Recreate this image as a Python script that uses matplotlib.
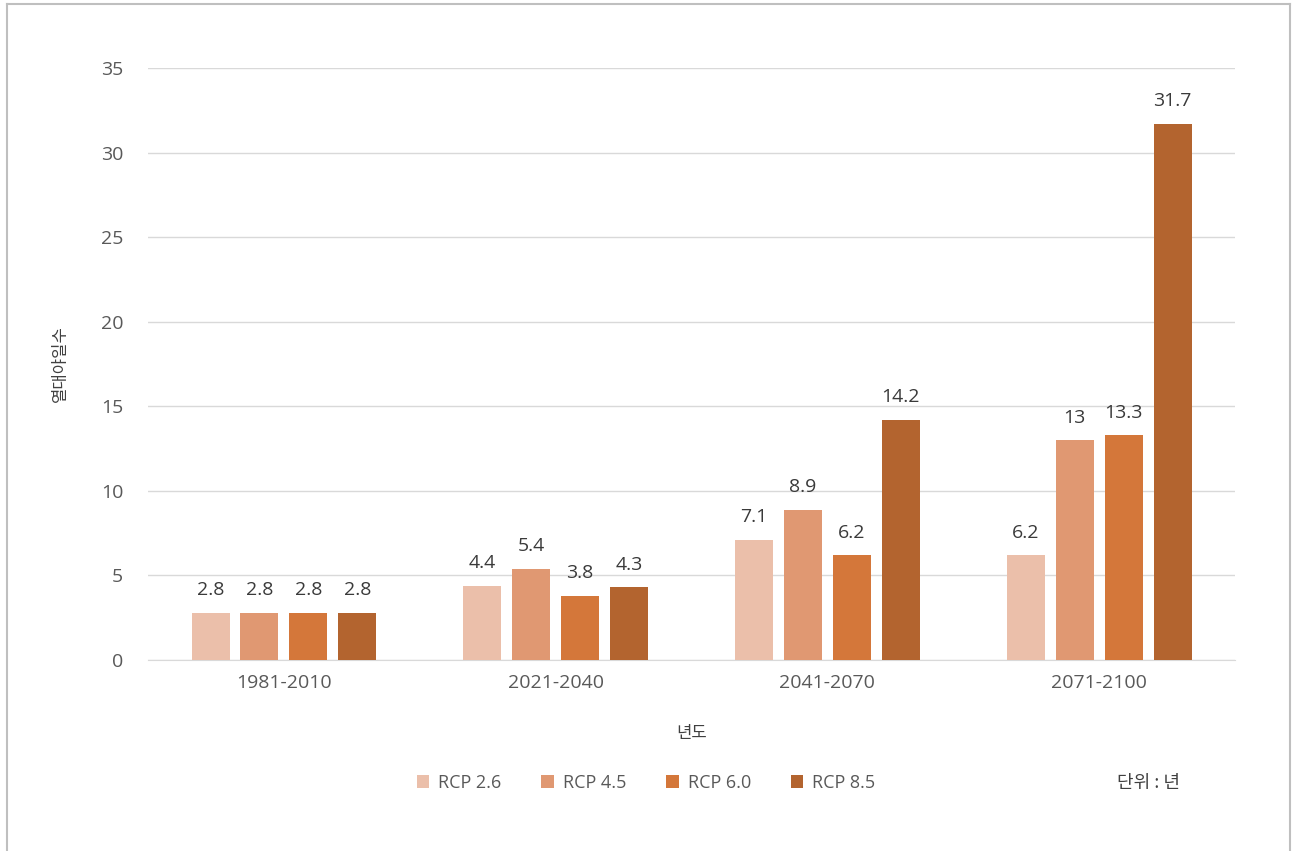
import numpy as np
import matplotlib
matplotlib.use("Agg")
import matplotlib.pyplot as plt
from matplotlib.lines import Line2D

plt.rcParams['font.family'] = ['Open Sans', 'Noto Sans CJK KR', 'DejaVu Sans']
kr = ['Noto Sans CJK KR', 'DejaVu Sans']

# data
periods = ['1981-2010', '2021-2040', '2041-2070', '2071-2100']
series = ['RCP 2.6', 'RCP 4.5', 'RCP 6.0', 'RCP 8.5']
rcp26 = [2.8, 4.4, 7.1, 6.2]
rcp45 = [2.8, 5.4, 8.9, 13]
rcp60 = [2.8, 3.8, 6.2, 13.3]
rcp85 = [2.8, 4.3, 14.2, 31.7]
colors = ['#EBBFAA', '#E09872', '#D4773A', '#B3642F']

fig = plt.figure(figsize=(12.92, 8.51), dpi=100)
ax = fig.add_axes([0.1146, 0.2244, 0.8413, 0.6956])

x = np.arange(len(periods))
pitch = 0.18
width = 0.14
for i, (vals, name) in enumerate(zip([rcp26, rcp45, rcp60, rcp85], series)):
    pos = x + (i - 1.5) * pitch
    bars = ax.bar(pos, vals, width, color=colors[i], label=name, zorder=3)
    for b, v in zip(bars, vals):
        ax.text(b.get_x() + b.get_width() / 2, v + 0.8, f'{v:g}',
                ha='center', va='bottom', fontsize=14, color='#3A3A3A')

ax.set_xlim(-0.5, 3.5)
ax.set_ylim(0, 35)
ax.set_yticks(range(0, 36, 5))
ax.set_xticks(x)
ax.set_xticklabels(periods)
ax.tick_params(axis='both', length=0, labelsize=14, labelcolor='#595959')
ax.tick_params(axis='y', pad=18)
ax.tick_params(axis='x', pad=10)
ax.grid(axis='y', color='#D9D9D9', linewidth=1, zorder=0)
for s in ['top', 'right', 'left']:
    ax.spines[s].set_visible(False)
ax.spines['bottom'].set_color('#D9D9D9')

ax.set_xlabel('년도', fontsize=12, color='#404040', labelpad=24, family=kr)
fig.text(0.047, 0.573, '열대야일수', rotation=90, ha='center', va='center',
         fontsize=12, color='#404040', family=kr)

handles, labels = ax.get_legend_handles_labels()
fig.legend(handles, labels, loc='center', bbox_to_anchor=(0.5, 0.08), ncol=4,
           frameon=False, fontsize=13, handlelength=0.7, handleheight=0.7,
           columnspacing=2.2, handletextpad=0.5, labelcolor='#595959')
fig.text(0.889, 0.08, '단위 : 년', ha='center', va='center', fontsize=13,
         color='#404040', family=kr)

# outer frame
fc = '#BFBFBF'
fig.add_artist(Line2D([0.0055, 0.0055], [0.0, 0.995], color=fc, lw=1.5, transform=fig.transFigure))
fig.add_artist(Line2D([0.0055, 0.9985], [0.995, 0.995], color=fc, lw=1.5, transform=fig.transFigure))
fig.add_artist(Line2D([0.9985, 0.9985], [0.0, 0.995], color=fc, lw=1.5, transform=fig.transFigure))

fig.savefig('out.png', dpi=100)
